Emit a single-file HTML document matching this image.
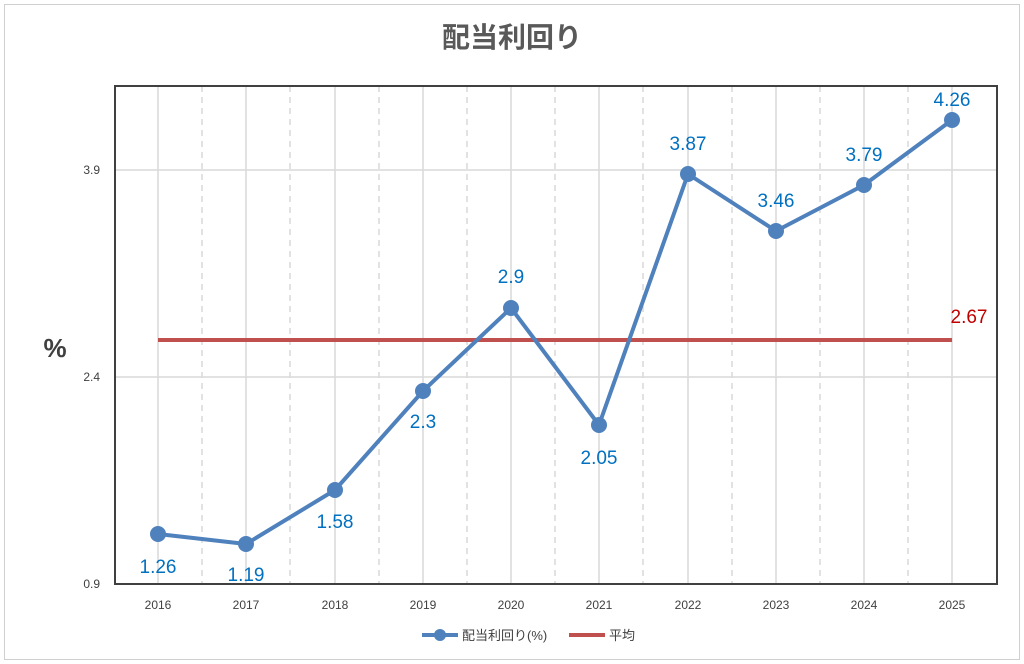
<!DOCTYPE html><html><head><meta charset="utf-8"><style>body{margin:0;background:#fff}svg{display:block}text{font-family:"Liberation Sans","Noto Sans CJK JP",sans-serif}</style></head><body>
<svg width="1024" height="664" viewBox="0 0 1024 664">
<rect x="4.5" y="4.5" width="1015" height="655" fill="#fff" stroke="#d0d0d0"/>
<text x="512" y="47" text-anchor="middle" font-size="28" font-weight="bold" fill="#595959">配当利回り</text>
<g stroke="#d9d9d9" stroke-width="1.5">
<line x1="115" y1="170" x2="997" y2="170"/><line x1="115" y1="377" x2="997" y2="377"/>
<g id="s"><line x1="158" y1="86" x2="158" y2="584"/><line x1="246" y1="86" x2="246" y2="584"/><line x1="335" y1="86" x2="335" y2="584"/><line x1="423" y1="86" x2="423" y2="584"/><line x1="511" y1="86" x2="511" y2="584"/><line x1="599" y1="86" x2="599" y2="584"/><line x1="688" y1="86" x2="688" y2="584"/><line x1="776" y1="86" x2="776" y2="584"/><line x1="864" y1="86" x2="864" y2="584"/><line x1="952" y1="86" x2="952" y2="584"/></g>
<g stroke-dasharray="6,5"><line x1="202" y1="86" x2="202" y2="584"/><line x1="290" y1="86" x2="290" y2="584"/><line x1="379" y1="86" x2="379" y2="584"/><line x1="467" y1="86" x2="467" y2="584"/><line x1="555" y1="86" x2="555" y2="584"/><line x1="643" y1="86" x2="643" y2="584"/><line x1="732" y1="86" x2="732" y2="584"/><line x1="820" y1="86" x2="820" y2="584"/><line x1="908" y1="86" x2="908" y2="584"/></g>
</g>
<rect x="115" y="86" width="882" height="498" fill="none" stroke="#404040" stroke-width="2"/>
<g font-size="12" fill="#404040" text-anchor="end"><text x="100" y="174">3.9</text><text x="100" y="381">2.4</text><text x="100" y="588">0.9</text></g>
<text x="55" y="357" text-anchor="middle" font-size="26" font-weight="bold" fill="#404040">%</text>
<g font-size="12" fill="#404040" text-anchor="middle"><text x="158" y="609">2016</text><text x="246" y="609">2017</text><text x="335" y="609">2018</text><text x="423" y="609">2019</text><text x="511" y="609">2020</text><text x="599" y="609">2021</text><text x="688" y="609">2022</text><text x="776" y="609">2023</text><text x="864" y="609">2024</text><text x="952" y="609">2025</text></g>
<line x1="158" y1="340" x2="952" y2="340" stroke="#c0504d" stroke-width="4"/>
<polyline points="158,534 246,544 335,490 423,391 511,308 599,425 688,174 776,231 864,185 952,120" fill="none" stroke="#4f81bd" stroke-width="4" stroke-linejoin="round"/>
<g fill="#4f81bd"><circle cx="158" cy="534" r="8"/><circle cx="246" cy="544" r="8"/><circle cx="335" cy="490" r="8"/><circle cx="423" cy="391" r="8"/><circle cx="511" cy="308" r="8"/><circle cx="599" cy="425" r="8"/><circle cx="688" cy="174" r="8"/><circle cx="776" cy="231" r="8"/><circle cx="864" cy="185" r="8"/><circle cx="952" cy="120" r="8"/></g>
<g font-size="19" fill="#0070c0" text-anchor="middle"><text x="158" y="573">1.26</text><text x="246" y="581">1.19</text><text x="335" y="528">1.58</text><text x="423" y="428">2.3</text><text x="511" y="283">2.9</text><text x="599" y="464">2.05</text><text x="688" y="150">3.87</text><text x="776" y="207">3.46</text><text x="864" y="161">3.79</text><text x="952" y="106">4.26</text></g>
<text x="969" y="323" text-anchor="middle" font-size="19" fill="#c00000">2.67</text>
<line x1="422" y1="635" x2="458" y2="635" stroke="#4f81bd" stroke-width="4"/><circle cx="440" cy="635" r="6" fill="#4f81bd"/>
<text x="462" y="640" font-size="13" fill="#404040">配当利回り(%)</text>
<line x1="569" y1="635" x2="605" y2="635" stroke="#c0504d" stroke-width="4"/>
<text x="609" y="640" font-size="13" fill="#404040">平均</text>
</svg></body></html>
